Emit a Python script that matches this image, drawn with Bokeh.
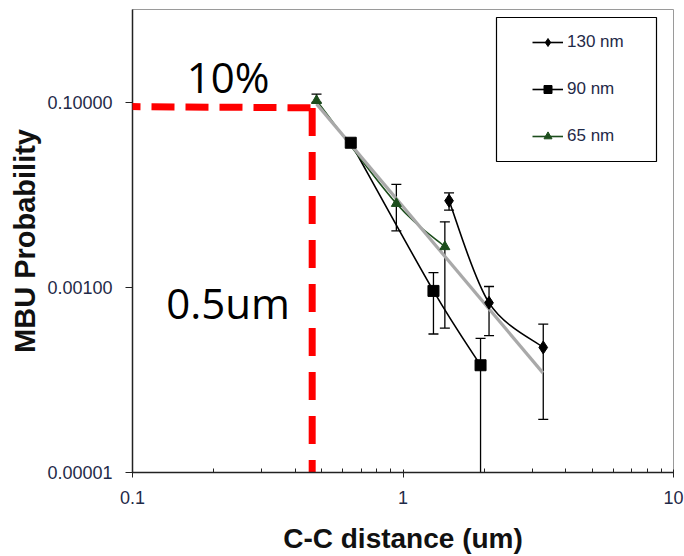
import numpy as np
from bokeh.plotting import figure
from bokeh.models import (FixedTicker, CustomJSTickFormatter, Legend, LegendItem,
                          Arrow, BoxAnnotation, Label)
from bokeh.embed import file_html
from bokeh.resources import INLINE

# ---------------- data ----------------
x_130 = [1.48, 2.08, 3.30]
y_130 = [0.0086, 0.00068, 0.000224]
lo_130 = [0.0068, 0.00030, 0.0000374]
hi_130 = [0.01045, 0.00102, 0.000401]

x_90 = [0.641, 1.296, 1.935]
y_90 = [0.0364, 0.000914, 0.000144]
lo_90 = [0.0364, 0.000313, 0.000001]
hi_90 = [0.0364, 0.00144, 0.000281]

x_65 = [0.479, 0.945, 1.428]
y_65 = [0.1038, 0.00803, 0.00274]
lo_65 = [0.099, 0.00407, 0.000363]
hi_65 = [0.122, 0.01294, 0.00509]

trend_x = [0.479, 3.29]
trend_y = [0.0957, 0.000119]

threshold_x = 0.4616
threshold_y = 0.0866

x_ticks = [0.1, 1, 10]
x_minor = [0.2, 0.3, 0.4, 0.5, 0.6, 0.7, 0.8, 0.9, 2, 3, 4, 5, 6, 7, 8, 9]
y_ticks = [1e-5, 1e-3, 1e-1]

LABEL_COLOR = "#1f2a48"
GREEN = "#1c4d1c"

FRAME_H = 464

p = figure(width=684, height=556, x_axis_type="log", y_axis_type="log",
           x_range=(0.1, 10), y_range=(1e-5, 1),
           output_backend="svg", toolbar_location=None,
           min_border_left=132, min_border_right=11, min_border_top=9,
           min_border_bottom=83)
p.background_fill_color = "white"
p.border_fill_color = "white"
p.outline_line_color = "#9a9a9a"
p.outline_line_width = 1
p.xgrid.visible = False
p.ygrid.visible = False

# axes
xa = p.xaxis[0]
xa.ticker = FixedTicker(ticks=x_ticks, minor_ticks=x_minor)
xa.formatter = CustomJSTickFormatter(code="return String(Number(tick.toPrecision(3)));")
xa.major_tick_out = 5
xa.major_tick_in = 3
xa.minor_tick_in = 4
xa.minor_tick_out = 0
xa.axis_line_color = "#222222"
xa.axis_line_width = 1.5
xa.major_tick_line_color = "#222222"
xa.minor_tick_line_color = "#222222"
xa.major_label_text_font = "Liberation Sans"
xa.major_label_text_font_size = "18px"
xa.major_label_text_color = LABEL_COLOR
xa.major_label_standoff = 13
xa.axis_label = "C-C distance (um)"
xa.axis_label_text_font = "Liberation Sans"
xa.axis_label_text_font_style = "bold"
xa.axis_label_text_font_size = "28px"
xa.axis_label_text_color = "#111111"
xa.axis_label_standoff = 16

ya = p.yaxis[0]
ya.ticker = FixedTicker(ticks=y_ticks, minor_ticks=[])
ya.formatter = CustomJSTickFormatter(code="return tick.toFixed(5);")
ya.major_tick_out = 7
ya.major_tick_in = 0
ya.minor_tick_in = 0
ya.minor_tick_out = 0
ya.axis_line_color = "#222222"
ya.axis_line_width = 1.5
ya.major_tick_line_color = "#222222"
ya.major_label_text_font = "Liberation Sans"
ya.major_label_text_font_size = "18px"
ya.major_label_text_color = LABEL_COLOR
ya.major_label_standoff = 13
ya.axis_label = "MBU Probability"
ya.axis_label_text_font = "Liberation Sans"
ya.axis_label_text_font_style = "bold"
ya.axis_label_text_font_size = "29px"
ya.axis_label_text_color = "#111111"
ya.axis_label_standoff = 3


def bezier_parts(xs, ys):
    lx = np.log10(np.asarray(xs, dtype=float))
    ly = np.log10(np.asarray(ys, dtype=float))
    pts = np.column_stack([lx, ly])
    n = len(pts)
    out = {k: [] for k in ("x0", "y0", "x1", "y1", "cx0", "cy0", "cx1", "cy1")}
    for i in range(n - 1):
        p0 = pts[i - 1] if i > 0 else pts[i]
        p1 = pts[i]
        p2 = pts[i + 1]
        p3 = pts[i + 2] if i + 2 < n else pts[i + 1]
        c1 = p1 + (p2 - p0) / 6.0
        c2 = p2 - (p3 - p1) / 6.0
        out["x0"].append(10 ** p1[0]); out["y0"].append(10 ** p1[1])
        out["x1"].append(10 ** p2[0]); out["y1"].append(10 ** p2[1])
        out["cx0"].append(10 ** c1[0]); out["cy0"].append(10 ** c1[1])
        out["cx1"].append(10 ** c2[0]); out["cy1"].append(10 ** c2[1])
    return out


series = [
    ("130 nm", x_130, y_130, lo_130, hi_130, "black", "black", "diamond", 13),
    ("90 nm", x_90, y_90, lo_90, hi_90, "black", "black", "square", 11),
    ("65 nm", x_65, y_65, lo_65, hi_65, GREEN, GREEN, "triangle", 10),
]

# error bars
for name, xs, ys, lo, hi, lc, mc, mk, sz in series:
    p.segment(x0=xs, y0=lo, x1=xs, y1=hi, line_color="black", line_width=1.3)
    p.scatter(x=xs, y=hi, marker="dash", size=10, line_color="black", line_width=1.3)
    p.scatter(x=xs, y=lo, marker="dash", size=10, line_color="black", line_width=1.3)

items = []
line_renderers = {}
for name, xs, ys, lo, hi, lc, mc, mk, sz in series:
    b = bezier_parts(xs, ys)
    r = p.bezier(line_color=lc, line_width=1.6, **b)
    line_renderers[name] = r

p.line(trend_x, trend_y, line_color="#a9a9a9", line_width=3.2)

for name, xs, ys, lo, hi, lc, mc, mk, sz in series:
    s = p.scatter(x=xs, y=ys, marker=mk, size=sz, fill_color=mc, line_color=mc)
    items.append(LegendItem(label=name, renderers=[line_renderers[name], s]))

# red guide lines
p.line([threshold_x, threshold_x], [threshold_y, y_ticks[0]], line_color="#ff0000",
       line_width=7, line_dash="28 16")
p.add_layout(Arrow(end=None, start_units="screen", x_start=-15, y_start=FRAME_H - 98,
                   end_units="data", x_end=threshold_x * 1.03, y_end=threshold_y,
                   line_color="#ff0000", line_width=7, line_dash="23 11"))

p.add_layout(Label(x=0.2255, y=0.1225, text="10%", text_font="Open Sans",
                   text_font_size="42px", text_align="center", y_offset=17,
                   text_baseline="alphabetic", text_color="black"))
p.add_layout(Label(x=0.2255, y=0.000454, text="0.5um", text_font="Open Sans",
                   text_font_size="42px", text_align="center", y_offset=17,
                   text_baseline="alphabetic", text_color="black"))

# legend box (screen units relative to frame, y from bottom)
p.add_layout(BoxAnnotation(left=364, right=524, top=FRAME_H - 9, bottom=FRAME_H - 153,
                           left_units="screen", right_units="screen",
                           top_units="screen", bottom_units="screen",
                           fill_alpha=0, line_color="black", line_alpha=1,
                           line_width=1.2))

legend = Legend(items=items, location=(400, 326), orientation="vertical",
                padding=0, margin=0, spacing=27, glyph_width=31, glyph_height=20,
                label_height=20, label_standoff=4,
                label_text_font="Liberation Sans", label_text_font_size="17px",
                label_text_color=LABEL_COLOR,
                border_line_alpha=0, background_fill_alpha=0)
p.add_layout(legend)

open("out.html", "w").write(file_html(p, INLINE))
